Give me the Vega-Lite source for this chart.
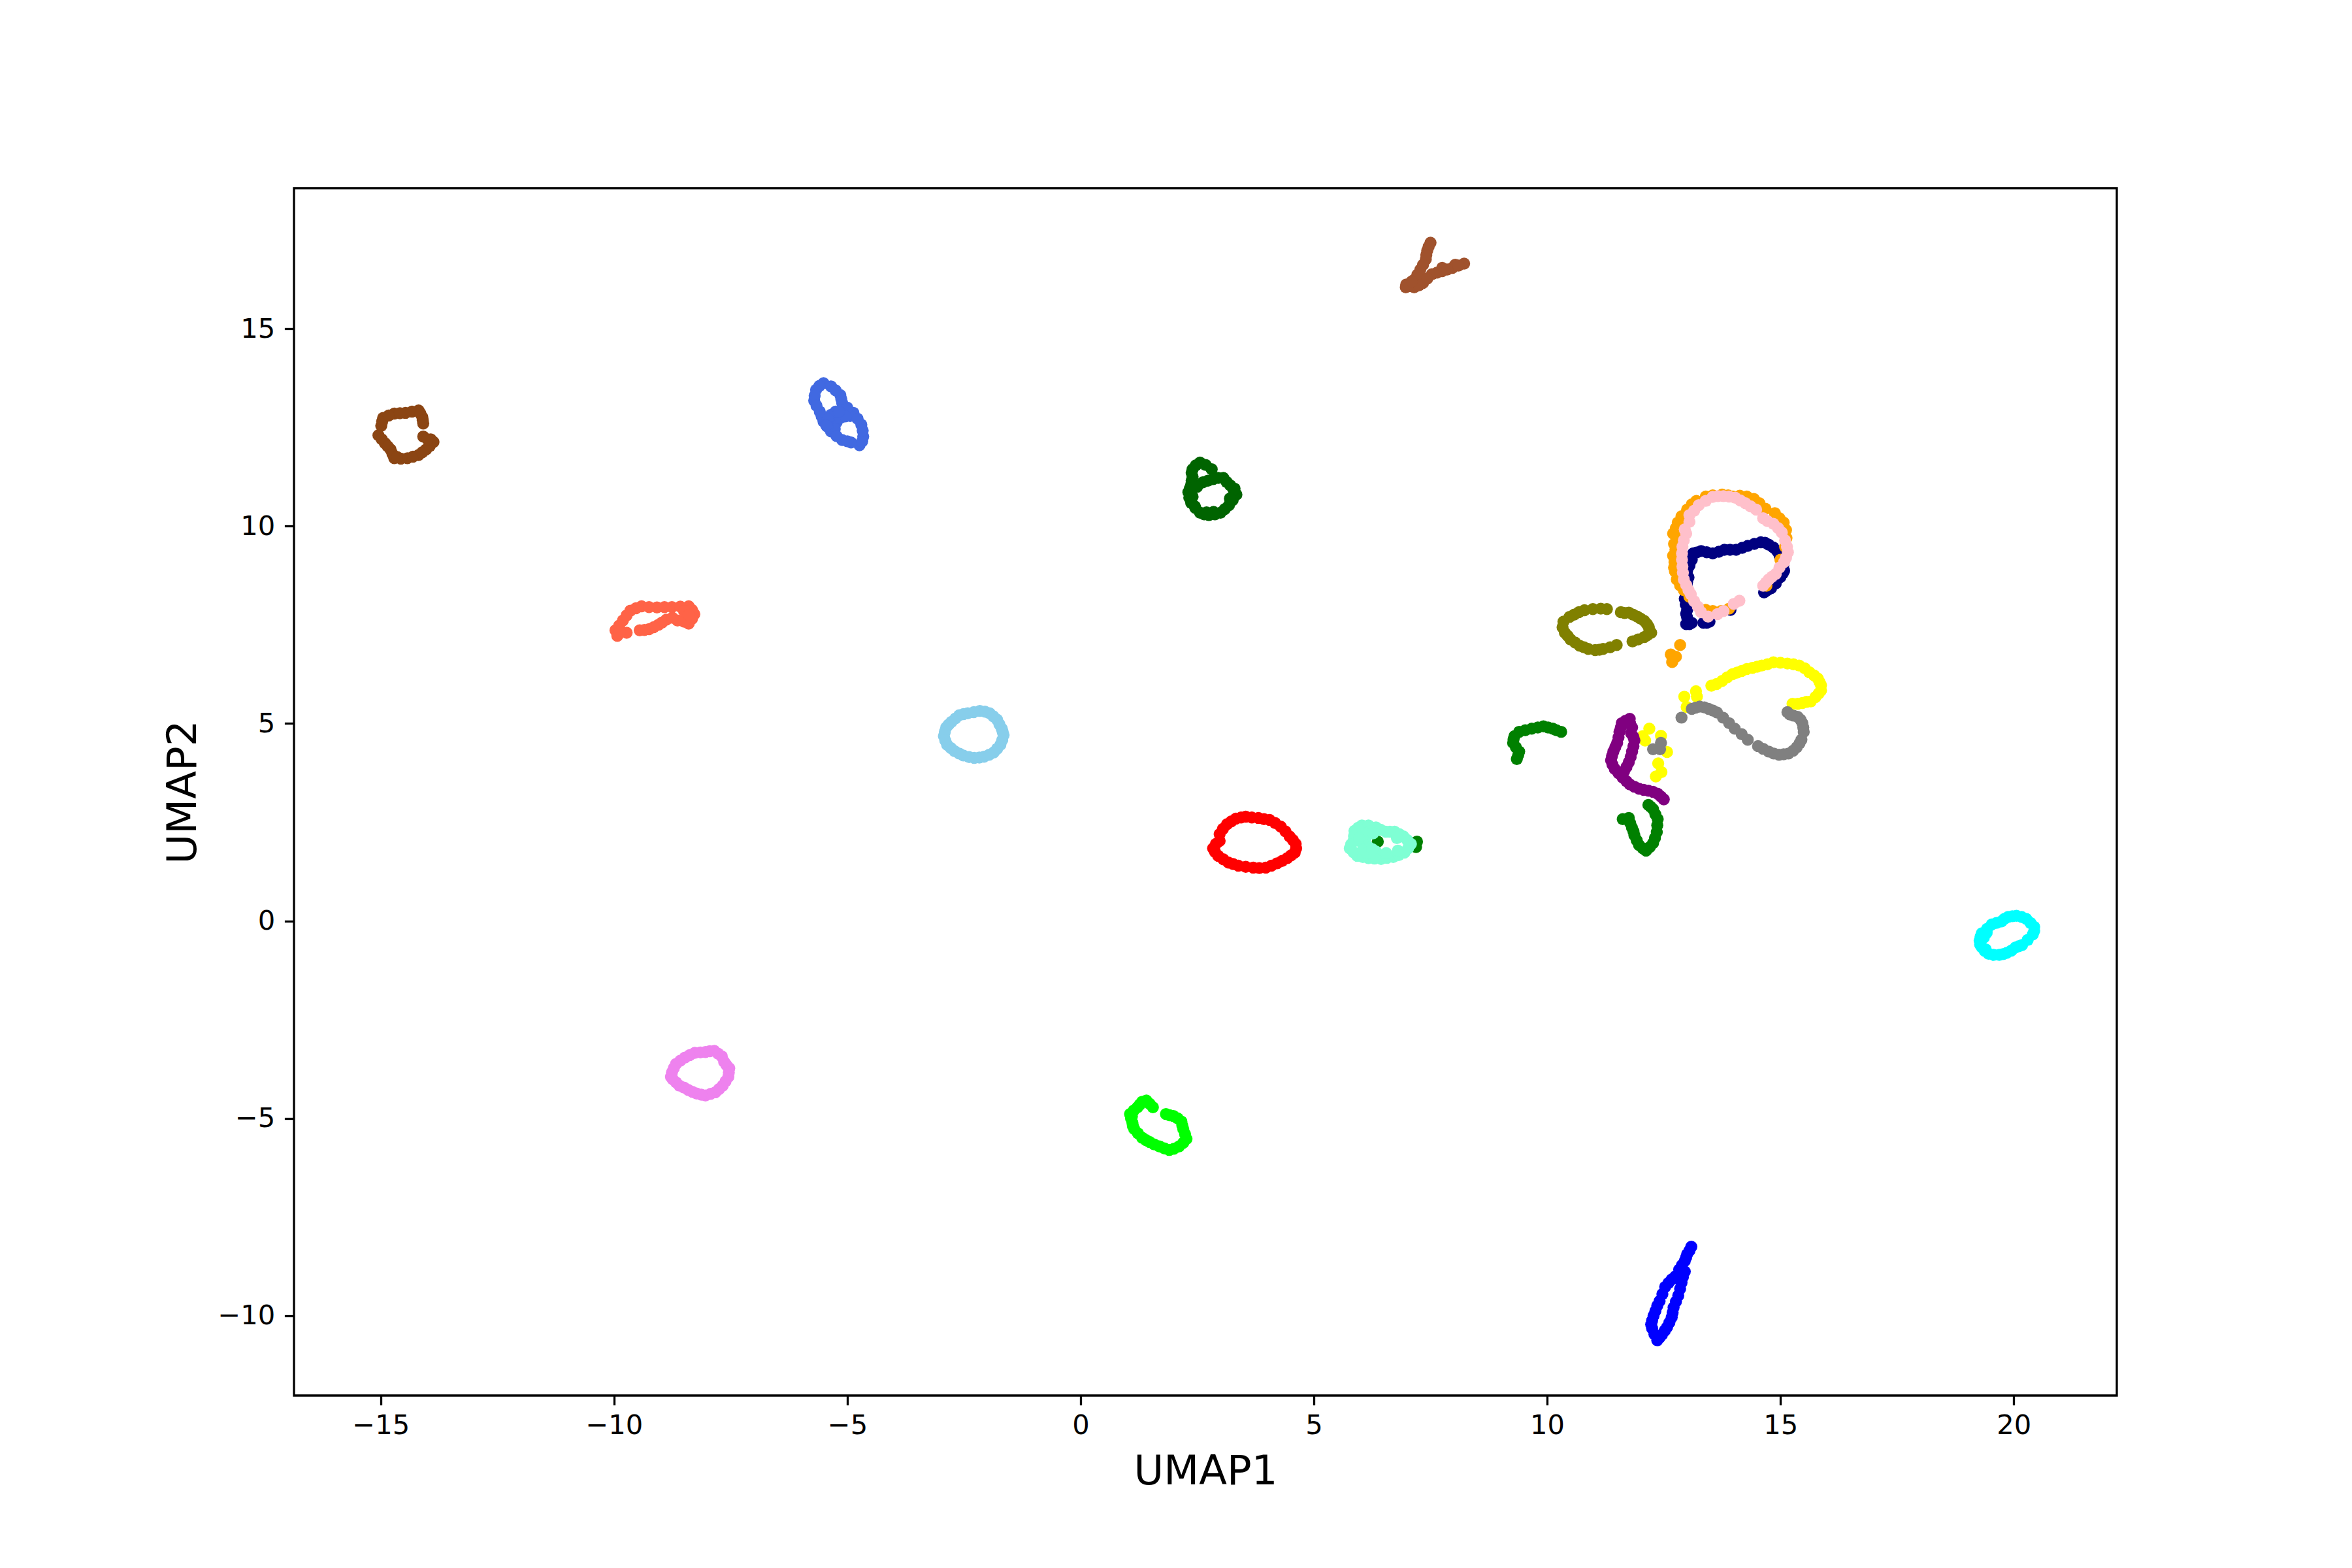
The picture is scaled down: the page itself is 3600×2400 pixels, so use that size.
{"$schema":"https://vega.github.io/schema/vega-lite/v6.json","width":2790,"height":1848,"autosize":{"type":"none"},"padding":{"left":450,"top":288,"right":360,"bottom":264},"background":"white","view":{"stroke":"black","strokeWidth":3.3,"fill":"white"},"config":{"axis":{"grid":false,"domain":false,"tickColor":"black","tickSize":14.6,"tickWidth":3.3,"labelFont":"DejaVu Sans","labelFontSize":41.67,"labelColor":"black","labelPadding":14.6,"labelFlush":false,"labelOverlap":false,"titleFont":"DejaVu Sans","titleFontSize":62.5,"titleFontWeight":"normal","titleColor":"black"}},"data":{"values":[
{"x":13.52,"y":5.96,"c":"A"},{"x":13.75,"y":6.08,"c":"A"},{"x":13.97,"y":6.25,"c":"A"},{"x":14.17,"y":6.33,"c":"A"},{"x":14.4,"y":6.41,"c":"A"},{"x":14.6,"y":6.47,"c":"A"},{"x":14.85,"y":6.55,"c":"A"},{"x":15.0,"y":6.54,"c":"A"},{"x":15.15,"y":6.52,"c":"A"},{"x":15.4,"y":6.47,"c":"A"},{"x":15.62,"y":6.3,"c":"A"},{"x":15.8,"y":6.14,"c":"A"},{"x":15.87,"y":5.97,"c":"A"},{"x":15.87,"y":5.84,"c":"A"},{"x":15.75,"y":5.67,"c":"A"},{"x":15.65,"y":5.56,"c":"A"},{"x":15.47,"y":5.52,"c":"A"},{"x":15.26,"y":5.5,"c":"A"},{"x":13.19,"y":5.82,"c":"A"},{"x":13.21,"y":5.68,"c":"A"},{"x":12.94,"y":5.68,"c":"A"},{"x":12.99,"y":5.42,"c":"A"},{"x":12.19,"y":4.87,"c":"A"},{"x":12.44,"y":4.69,"c":"A"},{"x":12.05,"y":4.68,"c":"A"},{"x":12.1,"y":4.57,"c":"A"},{"x":12.57,"y":4.28,"c":"A"},{"x":12.38,"y":3.99,"c":"A"},{"x":12.45,"y":3.77,"c":"A"},{"x":12.33,"y":3.66,"c":"A"},{"x":13.63,"y":6.0,"c":"A"},{"x":13.86,"y":6.17,"c":"A"},{"x":14.07,"y":6.29,"c":"A"},{"x":14.28,"y":6.38,"c":"A"},{"x":14.5,"y":6.44,"c":"A"},{"x":14.72,"y":6.5,"c":"A"},{"x":15.28,"y":6.5,"c":"A"},{"x":15.52,"y":6.4,"c":"A"},{"x":15.72,"y":6.22,"c":"A"},{"x":15.84,"y":6.05,"c":"A"},{"x":15.82,"y":5.76,"c":"A"},{"x":15.56,"y":5.55,"c":"A"},{"x":15.37,"y":5.5,"c":"A"},
{"x":12.88,"y":5.15,"c":"B"},{"x":13.1,"y":5.37,"c":"B"},{"x":13.27,"y":5.43,"c":"B"},{"x":13.46,"y":5.37,"c":"B"},{"x":13.64,"y":5.28,"c":"B"},{"x":13.77,"y":5.15,"c":"B"},{"x":13.9,"y":5.01,"c":"B"},{"x":14.02,"y":4.87,"c":"B"},{"x":14.17,"y":4.73,"c":"B"},{"x":14.3,"y":4.59,"c":"B"},{"x":14.52,"y":4.43,"c":"B"},{"x":14.75,"y":4.29,"c":"B"},{"x":14.97,"y":4.21,"c":"B"},{"x":15.17,"y":4.24,"c":"B"},{"x":15.35,"y":4.4,"c":"B"},{"x":15.45,"y":4.59,"c":"B"},{"x":15.5,"y":4.79,"c":"B"},{"x":15.47,"y":5.01,"c":"B"},{"x":15.37,"y":5.17,"c":"B"},{"x":15.2,"y":5.23,"c":"B"},{"x":15.15,"y":5.29,"c":"B"},{"x":12.44,"y":4.51,"c":"B"},{"x":12.27,"y":4.35,"c":"B"},{"x":12.42,"y":4.35,"c":"B"},{"x":13.18,"y":5.4,"c":"B"},{"x":13.37,"y":5.41,"c":"B"},{"x":13.55,"y":5.33,"c":"B"},{"x":14.63,"y":4.36,"c":"B"},{"x":14.86,"y":4.24,"c":"B"},{"x":15.07,"y":4.22,"c":"B"},{"x":15.27,"y":4.31,"c":"B"},{"x":15.41,"y":4.5,"c":"B"},{"x":15.49,"y":4.9,"c":"B"},{"x":15.43,"y":5.1,"c":"B"},{"x":15.28,"y":5.2,"c":"B"},
{"x":11.77,"y":5.12,"c":"C"},{"x":11.6,"y":5.01,"c":"C"},{"x":11.55,"y":4.79,"c":"C"},{"x":11.53,"y":4.65,"c":"C"},{"x":11.5,"y":4.51,"c":"C"},{"x":11.42,"y":4.29,"c":"C"},{"x":11.37,"y":4.07,"c":"C"},{"x":11.45,"y":3.85,"c":"C"},{"x":11.62,"y":3.63,"c":"C"},{"x":11.77,"y":3.46,"c":"C"},{"x":11.97,"y":3.35,"c":"C"},{"x":12.17,"y":3.3,"c":"C"},{"x":12.37,"y":3.22,"c":"C"},{"x":12.5,"y":3.08,"c":"C"},{"x":11.82,"y":4.9,"c":"C"},{"x":11.8,"y":4.75,"c":"C"},{"x":11.87,"y":4.57,"c":"C"},{"x":11.85,"y":4.43,"c":"C"},{"x":11.82,"y":4.29,"c":"C"},{"x":11.75,"y":4.02,"c":"C"},{"x":11.65,"y":3.79,"c":"C"},{"x":11.68,"y":5.07,"c":"C"},{"x":11.58,"y":4.9,"c":"C"},{"x":11.46,"y":4.4,"c":"C"},{"x":11.39,"y":4.18,"c":"C"},{"x":11.4,"y":3.96,"c":"C"},{"x":11.53,"y":3.74,"c":"C"},{"x":11.7,"y":3.54,"c":"C"},{"x":11.87,"y":3.4,"c":"C"},{"x":12.07,"y":3.32,"c":"C"},{"x":12.27,"y":3.27,"c":"C"},{"x":12.44,"y":3.15,"c":"C"},{"x":11.85,"y":4.66,"c":"C"},{"x":11.79,"y":4.15,"c":"C"},{"x":11.7,"y":3.9,"c":"C"},{"x":11.78,"y":5.0,"c":"C"},
{"x":11.62,"y":2.58,"c":"D"},{"x":11.75,"y":2.61,"c":"D"},{"x":11.82,"y":2.36,"c":"D"},{"x":11.87,"y":2.17,"c":"D"},{"x":11.97,"y":1.92,"c":"D"},{"x":12.12,"y":1.78,"c":"D"},{"x":12.27,"y":1.97,"c":"D"},{"x":12.35,"y":2.25,"c":"D"},{"x":12.37,"y":2.58,"c":"D"},{"x":12.27,"y":2.83,"c":"D"},{"x":12.17,"y":2.94,"c":"D"},{"x":10.3,"y":4.79,"c":"D"},{"x":10.12,"y":4.87,"c":"D"},{"x":9.92,"y":4.93,"c":"D"},{"x":9.67,"y":4.87,"c":"D"},{"x":9.4,"y":4.79,"c":"D"},{"x":9.3,"y":4.68,"c":"D"},{"x":9.27,"y":4.51,"c":"D"},{"x":9.4,"y":4.29,"c":"D"},{"x":9.35,"y":4.1,"c":"D"},{"x":7.21,"y":2.01,"c":"D"},{"x":7.19,"y":1.87,"c":"D"},{"x":6.37,"y":2.01,"c":"D"},{"x":11.78,"y":2.48,"c":"D"},{"x":11.85,"y":2.27,"c":"D"},{"x":11.92,"y":2.04,"c":"D"},{"x":12.05,"y":1.84,"c":"D"},{"x":12.2,"y":1.87,"c":"D"},{"x":12.31,"y":2.1,"c":"D"},{"x":12.36,"y":2.42,"c":"D"},{"x":12.32,"y":2.7,"c":"D"},{"x":12.22,"y":2.89,"c":"D"},{"x":10.2,"y":4.83,"c":"D"},{"x":10.02,"y":4.9,"c":"D"},{"x":9.8,"y":4.9,"c":"D"},{"x":9.53,"y":4.83,"c":"D"},{"x":9.28,"y":4.6,"c":"D"},{"x":9.33,"y":4.4,"c":"D"},{"x":9.38,"y":4.2,"c":"D"},
{"x":6.03,"y":2.42,"c":"E"},{"x":5.87,"y":2.28,"c":"E"},{"x":5.85,"y":2.03,"c":"E"},{"x":5.77,"y":1.84,"c":"E"},{"x":5.93,"y":1.65,"c":"E"},{"x":6.17,"y":1.59,"c":"E"},{"x":6.44,"y":1.57,"c":"E"},{"x":6.7,"y":1.62,"c":"E"},{"x":6.94,"y":1.73,"c":"E"},{"x":7.08,"y":1.95,"c":"E"},{"x":6.92,"y":2.14,"c":"E"},{"x":6.73,"y":2.26,"c":"E"},{"x":6.54,"y":2.26,"c":"E"},{"x":6.33,"y":2.37,"c":"E"},{"x":6.17,"y":2.42,"c":"E"},{"x":6.11,"y":2.09,"c":"E"},{"x":6.17,"y":1.87,"c":"E"},{"x":6.03,"y":1.98,"c":"E"},{"x":6.19,"y":2.26,"c":"E"},{"x":6.33,"y":1.76,"c":"E"},{"x":5.95,"y":2.36,"c":"E"},{"x":5.86,"y":2.15,"c":"E"},{"x":5.8,"y":1.94,"c":"E"},{"x":5.85,"y":1.74,"c":"E"},{"x":6.05,"y":1.62,"c":"E"},{"x":6.3,"y":1.58,"c":"E"},{"x":6.57,"y":1.6,"c":"E"},{"x":6.82,"y":1.67,"c":"E"},{"x":7.02,"y":1.84,"c":"E"},{"x":7.0,"y":2.05,"c":"E"},{"x":6.83,"y":2.2,"c":"E"},{"x":6.63,"y":2.26,"c":"E"},{"x":6.43,"y":2.31,"c":"E"},{"x":6.1,"y":2.2,"c":"E"},{"x":5.97,"y":2.1,"c":"E"},{"x":6.05,"y":1.8,"c":"E"},{"x":6.13,"y":1.72,"c":"E"},{"x":6.25,"y":1.82,"c":"E"},{"x":6.27,"y":2.22,"c":"E"},{"x":6.55,"y":1.72,"c":"E"},{"x":6.8,"y":1.78,"c":"E"},{"x":6.78,"y":2.1,"c":"E"},
{"x":13.13,"y":9.31,"c":"F"},{"x":13.3,"y":9.37,"c":"F"},{"x":13.55,"y":9.31,"c":"F"},{"x":13.8,"y":9.4,"c":"F"},{"x":14.05,"y":9.4,"c":"F"},{"x":14.3,"y":9.5,"c":"F"},{"x":14.58,"y":9.59,"c":"F"},{"x":14.75,"y":9.53,"c":"F"},{"x":14.93,"y":9.37,"c":"F"},{"x":15.03,"y":9.15,"c":"F"},{"x":15.08,"y":8.87,"c":"F"},{"x":15,"y":8.71,"c":"F"},{"x":14.8,"y":8.43,"c":"F"},{"x":14.65,"y":8.32,"c":"F"},{"x":13.1,"y":9.15,"c":"F"},{"x":13,"y":8.87,"c":"F"},{"x":13,"y":8.43,"c":"F"},{"x":12.95,"y":8.16,"c":"F"},{"x":13,"y":7.88,"c":"F"},{"x":12.98,"y":7.52,"c":"F"},{"x":13.1,"y":7.55,"c":"F"},{"x":13,"y":7.69,"c":"F"},{"x":13.35,"y":7.55,"c":"F"},{"x":13.48,"y":7.58,"c":"F"},{"x":13.93,"y":7.88,"c":"F"},{"x":13.2,"y":9.33,"c":"F"},{"x":13.42,"y":9.34,"c":"F"},{"x":13.68,"y":9.35,"c":"F"},{"x":13.92,"y":9.4,"c":"F"},{"x":14.18,"y":9.45,"c":"F"},{"x":14.44,"y":9.55,"c":"F"},{"x":14.67,"y":9.58,"c":"F"},{"x":14.85,"y":9.46,"c":"F"},{"x":14.98,"y":9.26,"c":"F"},{"x":15.06,"y":9.0,"c":"F"},{"x":15.05,"y":8.8,"c":"F"},{"x":14.9,"y":8.55,"c":"F"},{"x":14.72,"y":8.38,"c":"F"},{"x":13.05,"y":9.0,"c":"F"},{"x":13.03,"y":8.7,"c":"F"},{"x":13.0,"y":8.58,"c":"F"},{"x":12.97,"y":8.3,"c":"F"},{"x":12.97,"y":8.02,"c":"F"},{"x":12.98,"y":7.78,"c":"F"},{"x":13.05,"y":7.52,"c":"F"},{"x":13.42,"y":7.55,"c":"F"},
{"x":13.9,"y":7.91,"c":"G"},{"x":13.73,"y":7.85,"c":"G"},{"x":13.4,"y":7.88,"c":"G"},{"x":13.05,"y":8.21,"c":"G"},{"x":12.93,"y":8.38,"c":"G"},{"x":12.78,"y":8.65,"c":"G"},{"x":12.73,"y":9.09,"c":"G"},{"x":12.75,"y":9.4,"c":"G"},{"x":12.78,"y":9.7,"c":"G"},{"x":12.7,"y":9.81,"c":"G"},{"x":12.8,"y":10.09,"c":"G"},{"x":13,"y":10.42,"c":"G"},{"x":13.2,"y":10.64,"c":"G"},{"x":13.4,"y":10.75,"c":"G"},{"x":13.75,"y":10.8,"c":"G"},{"x":13.98,"y":10.75,"c":"G"},{"x":14.13,"y":10.77,"c":"G"},{"x":14.43,"y":10.69,"c":"G"},{"x":14.68,"y":10.44,"c":"G"},{"x":14.88,"y":10.33,"c":"G"},{"x":15.07,"y":10.09,"c":"G"},{"x":15.13,"y":9.7,"c":"G"},{"x":15.1,"y":9.48,"c":"G"},{"x":15,"y":9.15,"c":"G"},{"x":14.7,"y":8.49,"c":"G"},{"x":12.85,"y":6.99,"c":"G"},{"x":12.65,"y":6.75,"c":"G"},{"x":12.76,"y":6.69,"c":"G"},{"x":12.68,"y":6.56,"c":"G"},{"x":12.74,"y":8.85,"c":"G"},{"x":12.72,"y":8.95,"c":"G"},{"x":12.7,"y":9.25,"c":"G"},{"x":12.72,"y":9.55,"c":"G"},{"x":12.76,"y":9.95,"c":"G"},{"x":12.88,"y":10.25,"c":"G"},{"x":13.1,"y":10.55,"c":"G"},{"x":13.55,"y":10.78,"c":"G"},{"x":13.88,"y":10.78,"c":"G"},{"x":14.28,"y":10.75,"c":"G"},{"x":14.55,"y":10.58,"c":"G"},{"x":14.98,"y":10.2,"c":"G"},{"x":15.12,"y":9.9,"c":"G"},{"x":12.85,"y":8.5,"c":"G"},{"x":13.55,"y":7.85,"c":"G"},
{"x":14.12,"y":8.11,"c":"H"},{"x":14,"y":8.03,"c":"H"},{"x":13.78,"y":7.85,"c":"H"},{"x":13.65,"y":7.77,"c":"H"},{"x":13.45,"y":7.71,"c":"H"},{"x":13.3,"y":7.82,"c":"H"},{"x":13.23,"y":7.96,"c":"H"},{"x":13.15,"y":8.1,"c":"H"},{"x":13.08,"y":8.27,"c":"H"},{"x":13.03,"y":8.38,"c":"H"},{"x":12.98,"y":8.51,"c":"H"},{"x":12.93,"y":8.65,"c":"H"},{"x":12.91,"y":8.82,"c":"H"},{"x":12.9,"y":8.98,"c":"H"},{"x":12.89,"y":9.15,"c":"H"},{"x":12.89,"y":9.31,"c":"H"},{"x":12.9,"y":9.48,"c":"H"},{"x":12.93,"y":9.64,"c":"H"},{"x":12.98,"y":9.81,"c":"H"},{"x":12.95,"y":9.92,"c":"H"},{"x":13.05,"y":10.11,"c":"H"},{"x":13.05,"y":10.28,"c":"H"},{"x":13.15,"y":10.39,"c":"H"},{"x":13.25,"y":10.53,"c":"H"},{"x":13.4,"y":10.64,"c":"H"},{"x":13.55,"y":10.74,"c":"H"},{"x":13.78,"y":10.76,"c":"H"},{"x":14.03,"y":10.72,"c":"H"},{"x":14.25,"y":10.58,"c":"H"},{"x":14.48,"y":10.42,"c":"H"},{"x":14.63,"y":10.2,"c":"H"},{"x":14.85,"y":10.06,"c":"H"},{"x":15.03,"y":9.84,"c":"H"},{"x":15.1,"y":9.64,"c":"H"},{"x":15.14,"y":9.48,"c":"H"},{"x":15.16,"y":9.34,"c":"H"},{"x":15.08,"y":9.09,"c":"H"},{"x":14.98,"y":8.95,"c":"H"},{"x":14.9,"y":8.79,"c":"H"},{"x":14.75,"y":8.65,"c":"H"},{"x":14.63,"y":8.49,"c":"H"},{"x":14.72,"y":10.13,"c":"H"},{"x":14.95,"y":9.95,"c":"H"},{"x":13.9,"y":10.75,"c":"H"},{"x":13.66,"y":10.76,"c":"H"},{"x":14.14,"y":10.65,"c":"H"},{"x":14.36,"y":10.5,"c":"H"},{"x":15.12,"y":9.2,"c":"H"},{"x":14.82,"y":8.72,"c":"H"},{"x":14.69,"y":8.57,"c":"H"},
{"x":11.28,"y":7.9,"c":"I"},{"x":11.15,"y":7.91,"c":"I"},{"x":10.98,"y":7.9,"c":"I"},{"x":10.8,"y":7.87,"c":"I"},{"x":10.68,"y":7.82,"c":"I"},{"x":10.48,"y":7.7,"c":"I"},{"x":10.35,"y":7.58,"c":"I"},{"x":10.33,"y":7.44,"c":"I"},{"x":10.38,"y":7.3,"c":"I"},{"x":10.5,"y":7.13,"c":"I"},{"x":10.7,"y":6.97,"c":"I"},{"x":10.88,"y":6.89,"c":"I"},{"x":11.03,"y":6.86,"c":"I"},{"x":11.2,"y":6.89,"c":"I"},{"x":11.35,"y":6.93,"c":"I"},{"x":11.49,"y":6.99,"c":"I"},{"x":11.58,"y":7.82,"c":"I"},{"x":11.75,"y":7.81,"c":"I"},{"x":11.93,"y":7.71,"c":"I"},{"x":12.08,"y":7.6,"c":"I"},{"x":12.18,"y":7.44,"c":"I"},{"x":12.23,"y":7.3,"c":"I"},{"x":12.08,"y":7.19,"c":"I"},{"x":11.95,"y":7.13,"c":"I"},{"x":11.83,"y":7.08,"c":"I"},{"x":10.58,"y":7.76,"c":"I"},{"x":10.6,"y":7.05,"c":"I"},{"x":10.44,"y":7.22,"c":"I"},{"x":10.79,"y":6.93,"c":"I"},{"x":11.12,"y":6.87,"c":"I"},{"x":11.66,"y":7.8,"c":"I"},{"x":11.84,"y":7.76,"c":"I"},{"x":12.0,"y":7.66,"c":"I"},{"x":12.14,"y":7.52,"c":"I"},{"x":12.15,"y":7.24,"c":"I"},
{"x":2.84,"y":1.84,"c":"J"},{"x":2.98,"y":2.03,"c":"J"},{"x":2.98,"y":2.2,"c":"J"},{"x":3.14,"y":2.45,"c":"J"},{"x":3.33,"y":2.59,"c":"J"},{"x":3.54,"y":2.64,"c":"J"},{"x":3.81,"y":2.61,"c":"J"},{"x":4.05,"y":2.56,"c":"J"},{"x":4.29,"y":2.39,"c":"J"},{"x":4.48,"y":2.14,"c":"J"},{"x":4.61,"y":1.95,"c":"J"},{"x":4.59,"y":1.73,"c":"J"},{"x":4.43,"y":1.59,"c":"J"},{"x":4.21,"y":1.46,"c":"J"},{"x":3.97,"y":1.35,"c":"J"},{"x":3.7,"y":1.35,"c":"J"},{"x":3.38,"y":1.4,"c":"J"},{"x":3.17,"y":1.48,"c":"J"},{"x":2.95,"y":1.65,"c":"J"},{"x":2.9,"y":1.95,"c":"J"},{"x":3.05,"y":2.33,"c":"J"},{"x":3.23,"y":2.52,"c":"J"},{"x":3.44,"y":2.62,"c":"J"},{"x":3.67,"y":2.62,"c":"J"},{"x":3.93,"y":2.58,"c":"J"},{"x":4.17,"y":2.48,"c":"J"},{"x":4.39,"y":2.27,"c":"J"},{"x":4.55,"y":2.05,"c":"J"},{"x":4.62,"y":1.84,"c":"J"},{"x":4.51,"y":1.66,"c":"J"},{"x":4.32,"y":1.52,"c":"J"},{"x":4.09,"y":1.4,"c":"J"},{"x":3.83,"y":1.34,"c":"J"},{"x":3.54,"y":1.37,"c":"J"},{"x":3.27,"y":1.44,"c":"J"},{"x":3.06,"y":1.56,"c":"J"},{"x":2.88,"y":1.75,"c":"J"},
{"x":-14.99,"y":12.54,"c":"K"},{"x":-14.95,"y":12.74,"c":"K"},{"x":-14.71,"y":12.85,"c":"K"},{"x":-14.47,"y":12.87,"c":"K"},{"x":-14.19,"y":12.93,"c":"K"},{"x":-14.11,"y":12.76,"c":"K"},{"x":-14.09,"y":12.6,"c":"K"},{"x":-15.05,"y":12.3,"c":"K"},{"x":-14.91,"y":12.1,"c":"K"},{"x":-14.79,"y":11.94,"c":"K"},{"x":-14.71,"y":11.72,"c":"K"},{"x":-14.43,"y":11.72,"c":"K"},{"x":-14.19,"y":11.8,"c":"K"},{"x":-14.03,"y":11.94,"c":"K"},{"x":-13.87,"y":12.13,"c":"K"},{"x":-14.09,"y":12.27,"c":"K"},{"x":-14.97,"y":12.65,"c":"K"},{"x":-14.83,"y":12.8,"c":"K"},{"x":-14.59,"y":12.86,"c":"K"},{"x":-14.33,"y":12.9,"c":"K"},{"x":-14.15,"y":12.85,"c":"K"},{"x":-14.1,"y":12.68,"c":"K"},{"x":-14.98,"y":12.2,"c":"K"},{"x":-14.85,"y":12.02,"c":"K"},{"x":-14.75,"y":11.83,"c":"K"},{"x":-14.57,"y":11.71,"c":"K"},{"x":-14.31,"y":11.76,"c":"K"},{"x":-14.11,"y":11.87,"c":"K"},{"x":-13.95,"y":12.03,"c":"K"},{"x":-13.93,"y":12.2,"c":"K"},{"x":-14.0,"y":12.2,"c":"K"},{"x":-14.65,"y":11.75,"c":"K"},
{"x":-5.51,"y":13.62,"c":"L"},{"x":-5.67,"y":13.45,"c":"L"},{"x":-5.71,"y":13.18,"c":"L"},{"x":-5.59,"y":12.9,"c":"L"},{"x":-5.51,"y":12.65,"c":"L"},{"x":-5.35,"y":12.4,"c":"L"},{"x":-5.11,"y":12.18,"c":"L"},{"x":-4.74,"y":12.05,"c":"L"},{"x":-4.66,"y":12.27,"c":"L"},{"x":-4.7,"y":12.57,"c":"L"},{"x":-4.87,"y":12.87,"c":"L"},{"x":-5.11,"y":13.12,"c":"L"},{"x":-5.15,"y":13.32,"c":"L"},{"x":-5.35,"y":13.54,"c":"L"},{"x":-5.35,"y":12.82,"c":"L"},{"x":-5.23,"y":12.63,"c":"L"},{"x":-5.27,"y":12.46,"c":"L"},{"x":-5.15,"y":12.74,"c":"L"},{"x":-4.94,"y":12.79,"c":"L"},{"x":-4.92,"y":12.12,"c":"L"},{"x":-5.6,"y":13.55,"c":"L"},{"x":-5.7,"y":13.3,"c":"L"},{"x":-5.66,"y":13.05,"c":"L"},{"x":-5.55,"y":12.78,"c":"L"},{"x":-5.43,"y":12.52,"c":"L"},{"x":-5.23,"y":12.28,"c":"L"},{"x":-4.68,"y":12.15,"c":"L"},{"x":-4.67,"y":12.42,"c":"L"},{"x":-4.78,"y":12.72,"c":"L"},{"x":-5.0,"y":13.0,"c":"L"},{"x":-5.13,"y":13.22,"c":"L"},{"x":-5.25,"y":13.44,"c":"L"},{"x":-5.25,"y":12.9,"c":"L"},{"x":-5.04,"y":12.78,"c":"L"},{"x":-5.42,"y":12.72,"c":"L"},{"x":-5.0,"y":12.15,"c":"L"},{"x":-5.18,"y":12.9,"c":"L"},{"x":-5.45,"y":12.55,"c":"L"},
{"x":-9.93,"y":7.22,"c":"M"},{"x":-9.97,"y":7.36,"c":"M"},{"x":-9.81,"y":7.61,"c":"M"},{"x":-9.65,"y":7.86,"c":"M"},{"x":-9.41,"y":7.97,"c":"M"},{"x":-9.08,"y":7.94,"c":"M"},{"x":-8.76,"y":7.95,"c":"M"},{"x":-8.4,"y":7.97,"c":"M"},{"x":-8.28,"y":7.77,"c":"M"},{"x":-8.4,"y":7.53,"c":"M"},{"x":-8.64,"y":7.61,"c":"M"},{"x":-8.88,"y":7.63,"c":"M"},{"x":-9.05,"y":7.5,"c":"M"},{"x":-9.25,"y":7.39,"c":"M"},{"x":-9.45,"y":7.36,"c":"M"},{"x":-9.73,"y":7.3,"c":"M"},{"x":-9.89,"y":7.48,"c":"M"},{"x":-9.73,"y":7.74,"c":"M"},{"x":-9.53,"y":7.92,"c":"M"},{"x":-9.25,"y":7.95,"c":"M"},{"x":-8.92,"y":7.95,"c":"M"},{"x":-8.58,"y":7.96,"c":"M"},{"x":-8.33,"y":7.88,"c":"M"},{"x":-8.33,"y":7.65,"c":"M"},{"x":-8.5,"y":7.58,"c":"M"},{"x":-8.97,"y":7.56,"c":"M"},{"x":-9.15,"y":7.44,"c":"M"},{"x":-9.35,"y":7.37,"c":"M"},{"x":-8.75,"y":7.68,"c":"M"},{"x":-8.5,"y":7.85,"c":"M"},{"x":-8.4,"y":7.75,"c":"M"},{"x":-9.88,"y":7.3,"c":"M"},
{"x":7.5,"y":17.18,"c":"N"},{"x":7.43,"y":16.98,"c":"N"},{"x":7.4,"y":16.76,"c":"N"},{"x":7.28,"y":16.49,"c":"N"},{"x":7.15,"y":16.24,"c":"N"},{"x":6.97,"y":16.05,"c":"N"},{"x":7.15,"y":16.05,"c":"N"},{"x":7.34,"y":16.16,"c":"N"},{"x":7.53,"y":16.38,"c":"N"},{"x":7.75,"y":16.46,"c":"N"},{"x":7.97,"y":16.54,"c":"N"},{"x":8.22,"y":16.65,"c":"N"},{"x":8.03,"y":16.62,"c":"N"},{"x":7.75,"y":16.54,"c":"N"},{"x":7.46,"y":17.08,"c":"N"},{"x":7.41,"y":16.87,"c":"N"},{"x":7.34,"y":16.62,"c":"N"},{"x":7.22,"y":16.37,"c":"N"},{"x":7.07,"y":16.14,"c":"N"},{"x":7.05,"y":16.08,"c":"N"},{"x":7.25,"y":16.1,"c":"N"},{"x":7.43,"y":16.27,"c":"N"},{"x":7.64,"y":16.42,"c":"N"},{"x":7.86,"y":16.5,"c":"N"},{"x":8.1,"y":16.6,"c":"N"},{"x":6.98,"y":16.12,"c":"N"},{"x":7.1,"y":16.2,"c":"N"},
{"x":2.81,"y":11.44,"c":"O"},{"x":2.56,"y":11.61,"c":"O"},{"x":2.4,"y":11.44,"c":"O"},{"x":2.4,"y":11.25,"c":"O"},{"x":2.37,"y":11.05,"c":"O"},{"x":2.31,"y":10.86,"c":"O"},{"x":2.37,"y":10.59,"c":"O"},{"x":2.56,"y":10.34,"c":"O"},{"x":2.75,"y":10.28,"c":"O"},{"x":3.0,"y":10.34,"c":"O"},{"x":3.18,"y":10.53,"c":"O"},{"x":3.34,"y":10.8,"c":"O"},{"x":3.21,"y":11.03,"c":"O"},{"x":3.06,"y":11.22,"c":"O"},{"x":2.84,"y":11.19,"c":"O"},{"x":2.62,"y":11.11,"c":"O"},{"x":2.68,"y":11.55,"c":"O"},{"x":2.47,"y":11.54,"c":"O"},{"x":2.38,"y":11.35,"c":"O"},{"x":2.38,"y":11.15,"c":"O"},{"x":2.34,"y":10.95,"c":"O"},{"x":2.33,"y":10.72,"c":"O"},{"x":2.46,"y":10.46,"c":"O"},{"x":2.65,"y":10.3,"c":"O"},{"x":2.88,"y":10.3,"c":"O"},{"x":3.09,"y":10.43,"c":"O"},{"x":3.26,"y":10.66,"c":"O"},{"x":3.28,"y":10.92,"c":"O"},{"x":3.13,"y":11.12,"c":"O"},{"x":2.95,"y":11.22,"c":"O"},{"x":2.73,"y":11.15,"c":"O"},{"x":2.5,"y":11.0,"c":"O"},{"x":3.3,"y":10.95,"c":"O"},{"x":2.45,"y":10.5,"c":"O"},{"x":2.4,"y":10.75,"c":"O"},{"x":2.85,"y":10.36,"c":"O"},{"x":3.2,"y":10.7,"c":"O"},{"x":2.7,"y":10.35,"c":"O"},
{"x":-2.93,"y":4.68,"c":"P"},{"x":-2.88,"y":4.9,"c":"P"},{"x":-2.77,"y":5.04,"c":"P"},{"x":-2.6,"y":5.21,"c":"P"},{"x":-2.42,"y":5.26,"c":"P"},{"x":-2.16,"y":5.32,"c":"P"},{"x":-1.95,"y":5.26,"c":"P"},{"x":-1.79,"y":5.1,"c":"P"},{"x":-1.69,"y":4.87,"c":"P"},{"x":-1.65,"y":4.71,"c":"P"},{"x":-1.72,"y":4.46,"c":"P"},{"x":-1.86,"y":4.27,"c":"P"},{"x":-2.07,"y":4.16,"c":"P"},{"x":-2.28,"y":4.13,"c":"P"},{"x":-2.51,"y":4.19,"c":"P"},{"x":-2.7,"y":4.3,"c":"P"},{"x":-2.86,"y":4.46,"c":"P"},{"x":-2.91,"y":4.79,"c":"P"},{"x":-2.83,"y":4.97,"c":"P"},{"x":-2.68,"y":5.13,"c":"P"},{"x":-2.51,"y":5.24,"c":"P"},{"x":-2.29,"y":5.29,"c":"P"},{"x":-2.05,"y":5.3,"c":"P"},{"x":-1.87,"y":5.18,"c":"P"},{"x":-1.74,"y":4.98,"c":"P"},{"x":-1.67,"y":4.79,"c":"P"},{"x":-1.68,"y":4.58,"c":"P"},{"x":-1.79,"y":4.36,"c":"P"},{"x":-1.96,"y":4.21,"c":"P"},{"x":-2.17,"y":4.14,"c":"P"},{"x":-2.39,"y":4.15,"c":"P"},{"x":-2.6,"y":4.24,"c":"P"},{"x":-2.78,"y":4.38,"c":"P"},{"x":-2.9,"y":4.57,"c":"P"},
{"x":-8.76,"y":-3.84,"c":"Q"},{"x":-8.67,"y":-3.62,"c":"Q"},{"x":-8.48,"y":-3.46,"c":"Q"},{"x":-8.27,"y":-3.34,"c":"Q"},{"x":-8.04,"y":-3.32,"c":"Q"},{"x":-7.85,"y":-3.29,"c":"Q"},{"x":-7.69,"y":-3.43,"c":"Q"},{"x":-7.64,"y":-3.57,"c":"Q"},{"x":-7.53,"y":-3.73,"c":"Q"},{"x":-7.55,"y":-3.95,"c":"Q"},{"x":-7.67,"y":-4.17,"c":"Q"},{"x":-7.83,"y":-4.34,"c":"Q"},{"x":-8.04,"y":-4.42,"c":"Q"},{"x":-8.23,"y":-4.37,"c":"Q"},{"x":-8.41,"y":-4.28,"c":"Q"},{"x":-8.6,"y":-4.17,"c":"Q"},{"x":-8.74,"y":-4.01,"c":"Q"},{"x":-8.72,"y":-3.73,"c":"Q"},{"x":-8.58,"y":-3.54,"c":"Q"},{"x":-8.38,"y":-3.4,"c":"Q"},{"x":-8.15,"y":-3.33,"c":"Q"},{"x":-7.95,"y":-3.3,"c":"Q"},{"x":-7.77,"y":-3.36,"c":"Q"},{"x":-7.59,"y":-3.65,"c":"Q"},{"x":-7.54,"y":-3.84,"c":"Q"},{"x":-7.61,"y":-4.06,"c":"Q"},{"x":-7.75,"y":-4.26,"c":"Q"},{"x":-7.93,"y":-4.38,"c":"Q"},{"x":-8.13,"y":-4.4,"c":"Q"},{"x":-8.32,"y":-4.33,"c":"Q"},{"x":-8.5,"y":-4.22,"c":"Q"},{"x":-8.67,"y":-4.09,"c":"Q"},{"x":-8.78,"y":-3.95,"c":"Q"},
{"x":1.55,"y":-4.72,"c":"R"},{"x":1.41,"y":-4.55,"c":"R"},{"x":1.32,"y":-4.58,"c":"R"},{"x":1.22,"y":-4.72,"c":"R"},{"x":1.06,"y":-4.89,"c":"R"},{"x":1.11,"y":-5.11,"c":"R"},{"x":1.15,"y":-5.27,"c":"R"},{"x":1.32,"y":-5.49,"c":"R"},{"x":1.48,"y":-5.6,"c":"R"},{"x":1.69,"y":-5.71,"c":"R"},{"x":1.9,"y":-5.8,"c":"R"},{"x":2.11,"y":-5.71,"c":"R"},{"x":2.27,"y":-5.52,"c":"R"},{"x":2.2,"y":-5.27,"c":"R"},{"x":2.16,"y":-5.08,"c":"R"},{"x":1.99,"y":-4.94,"c":"R"},{"x":1.83,"y":-4.89,"c":"R"},{"x":1.48,"y":-4.63,"c":"R"},{"x":1.27,"y":-4.65,"c":"R"},{"x":1.14,"y":-4.8,"c":"R"},{"x":1.08,"y":-5.0,"c":"R"},{"x":1.12,"y":-5.19,"c":"R"},{"x":1.23,"y":-5.38,"c":"R"},{"x":1.4,"y":-5.55,"c":"R"},{"x":1.58,"y":-5.66,"c":"R"},{"x":1.8,"y":-5.76,"c":"R"},{"x":2.0,"y":-5.77,"c":"R"},{"x":2.2,"y":-5.62,"c":"R"},{"x":2.24,"y":-5.4,"c":"R"},{"x":2.18,"y":-5.18,"c":"R"},{"x":2.08,"y":-5.0,"c":"R"},{"x":1.91,"y":-4.92,"c":"R"},{"x":1.1,"y":-4.95,"c":"R"},
{"x":13.09,"y":-8.25,"c":"S"},{"x":13,"y":-8.44,"c":"S"},{"x":12.95,"y":-8.61,"c":"S"},{"x":12.83,"y":-8.83,"c":"S"},{"x":12.95,"y":-8.88,"c":"S"},{"x":12.88,"y":-9.16,"c":"S"},{"x":12.81,"y":-9.49,"c":"S"},{"x":12.71,"y":-9.79,"c":"S"},{"x":12.67,"y":-10.04,"c":"S"},{"x":12.57,"y":-10.29,"c":"S"},{"x":12.46,"y":-10.48,"c":"S"},{"x":12.36,"y":-10.62,"c":"S"},{"x":12.25,"y":-10.32,"c":"S"},{"x":12.25,"y":-10.12,"c":"S"},{"x":12.32,"y":-9.88,"c":"S"},{"x":12.41,"y":-9.63,"c":"S"},{"x":12.53,"y":-9.27,"c":"S"},{"x":12.67,"y":-9.08,"c":"S"},{"x":13.05,"y":-8.35,"c":"S"},{"x":12.98,"y":-8.52,"c":"S"},{"x":12.89,"y":-8.72,"c":"S"},{"x":12.9,"y":-8.95,"c":"S"},{"x":12.91,"y":-9.02,"c":"S"},{"x":12.85,"y":-9.32,"c":"S"},{"x":12.76,"y":-9.64,"c":"S"},{"x":12.69,"y":-9.92,"c":"S"},{"x":12.62,"y":-10.17,"c":"S"},{"x":12.52,"y":-10.38,"c":"S"},{"x":12.3,"y":-10.47,"c":"S"},{"x":12.41,"y":-10.55,"c":"S"},{"x":12.28,"y":-10.0,"c":"S"},{"x":12.36,"y":-9.75,"c":"S"},{"x":12.47,"y":-9.45,"c":"S"},{"x":12.6,"y":-9.17,"c":"S"},{"x":12.75,"y":-9.0,"c":"S"},{"x":12.23,"y":-10.22,"c":"S"},
{"x":19.27,"y":-0.5,"c":"T"},{"x":19.32,"y":-0.31,"c":"T"},{"x":19.53,"y":-0.09,"c":"T"},{"x":19.74,"y":-0.01,"c":"T"},{"x":19.88,"y":0.1,"c":"T"},{"x":20.06,"y":0.13,"c":"T"},{"x":20.27,"y":0.05,"c":"T"},{"x":20.44,"y":-0.15,"c":"T"},{"x":20.41,"y":-0.34,"c":"T"},{"x":20.18,"y":-0.61,"c":"T"},{"x":20.04,"y":-0.67,"c":"T"},{"x":19.85,"y":-0.81,"c":"T"},{"x":19.69,"y":-0.86,"c":"T"},{"x":19.46,"y":-0.83,"c":"T"},{"x":19.32,"y":-0.67,"c":"T"},{"x":19.36,"y":-0.42,"c":"T"},{"x":19.28,"y":-0.6,"c":"T"},{"x":19.29,"y":-0.4,"c":"T"},{"x":19.43,"y":-0.2,"c":"T"},{"x":19.63,"y":-0.05,"c":"T"},{"x":19.8,"y":0.05,"c":"T"},{"x":19.97,"y":0.12,"c":"T"},{"x":20.17,"y":0.1,"c":"T"},{"x":20.36,"y":-0.05,"c":"T"},{"x":20.44,"y":-0.25,"c":"T"},{"x":20.3,"y":-0.48,"c":"T"},{"x":20.11,"y":-0.64,"c":"T"},{"x":19.95,"y":-0.75,"c":"T"},{"x":19.77,"y":-0.84,"c":"T"},{"x":19.57,"y":-0.86,"c":"T"},{"x":19.38,"y":-0.76,"c":"T"},{"x":19.42,"y":-0.3,"c":"T"},{"x":19.4,"y":-0.72,"c":"T"}
]},"mark":{"type":"point","filled":true,"size":340,"opacity":1,"clip":true},"encoding":{"x":{"field":"x","type":"quantitative","scale":{"domain":[-16.86,22.21],"nice":false,"zero":false},"axis":{"title":"UMAP1","values":[-15,-10,-5,0,5,10,15,20],"labelPadding":11,"titlePadding":19}},"y":{"field":"y","type":"quantitative","scale":{"domain":[-12.02,18.56],"nice":false,"zero":false},"axis":{"title":"UMAP2","values":[-10,-5,0,5,10,15],"titlePadding":20}},"color":{"field":"c","type":"nominal","legend":null,"scale":{"domain":["A","B","C","D","E","F","G","H","I","J","K","L","M","N","O","P","Q","R","S","T"],"range":["#ffff00","#808080","#800080","#008000","#7fffd4","#000080","#ffa500","#ffc0cb","#808000","#ff0000","#8b4513","#4169e1","#ff6347","#a0522d","#006400","#87ceeb","#ee82ee","#00ff00","#0000ff","#00ffff"]}}}}
